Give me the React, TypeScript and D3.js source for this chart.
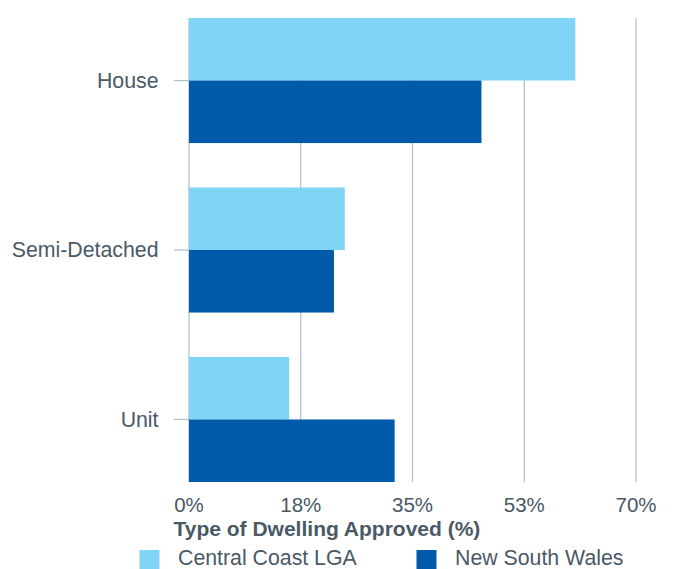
import React from "react";
import * as d3 from "d3";

const categories = ["House", "Semi-Detached", "Unit"];
const centralCoast = [60.5, 24.4, 15.7];
const nsw = [45.8, 22.7, 32.2];
const seriesNames = ["Central Coast LGA", "New South Wales"];
const tickValues = [0, 17.5, 35, 52.5, 70];
const tickLabels = ["0%", "18%", "35%", "53%", "70%"];
const colors = ["#80d4f6", "#005aaa"];

const W = 676;
const H = 569;
const left = 189;
const right = 636;
const top = 18;
const bottom = 482;
const textColor = "#4a5965";
const gridColor = "#a9c0c8";
const font = "'Liberation Sans', Arial, Helvetica, sans-serif";
const fs = 21.3;

export default function App() {
  const x = d3.scaleLinear().domain([0, 70]).range([left, right]);
  const y = d3.scaleBand<string>().domain(categories).range([top, bottom]).paddingInner(0.262).paddingOuter(0);
  const bw = y.bandwidth() / 2;
  const series = [centralCoast, nsw];
  return (
    <svg width={W} height={H} style={{ position: "absolute", left: 0, top: 0, fontFamily: font }}>
      {tickValues.map((t, i) => (
        <line key={"g" + i} x1={x(t)} x2={x(t)} y1={top} y2={bottom} stroke={gridColor} strokeWidth={1.2} />
      ))}
      {categories.map((c, ci) =>
        series.map((s, si) => (
          <rect
            key={c + si}
            x={x(0)}
            y={(y(c) as number) + si * bw}
            width={x(s[ci]) - x(0)}
            height={bw}
            fill={colors[si]}
          />
        ))
      )}
      {categories.map((c) => {
        const cy = (y(c) as number) + bw;
        return (
          <g key={"t" + c}>
            <line x1={174} x2={x(0)} y1={cy} y2={cy} stroke={gridColor} strokeWidth={1.2} />
            <text x={158.5} y={cy} dy="0.35em" textAnchor="end" fontSize={fs} fill={textColor}>
              {c}
            </text>
          </g>
        );
      })}
      {tickValues.map((t, i) => (
        <text key={"l" + i} x={x(t)} y={512} textAnchor="middle" fontSize={20.5} fill={textColor}>
          {tickLabels[i]}
        </text>
      ))}
      <text x={173.5} y={535.5} fontSize={21} fontWeight="bold" fill={textColor}>
        Type of Dwelling Approved (%)
      </text>
      {seriesNames.map((n, i) => {
        const lx = [139.5, 416.5][i];
        return (
          <g key={"lg" + i}>
            <rect x={lx} y={550} width={20} height={20} fill={colors[i]} />
            <text x={lx + 38.5} y={564.5} fontSize={fs} fill={textColor}>
              {n}
            </text>
          </g>
        );
      })}
    </svg>
  );
}
